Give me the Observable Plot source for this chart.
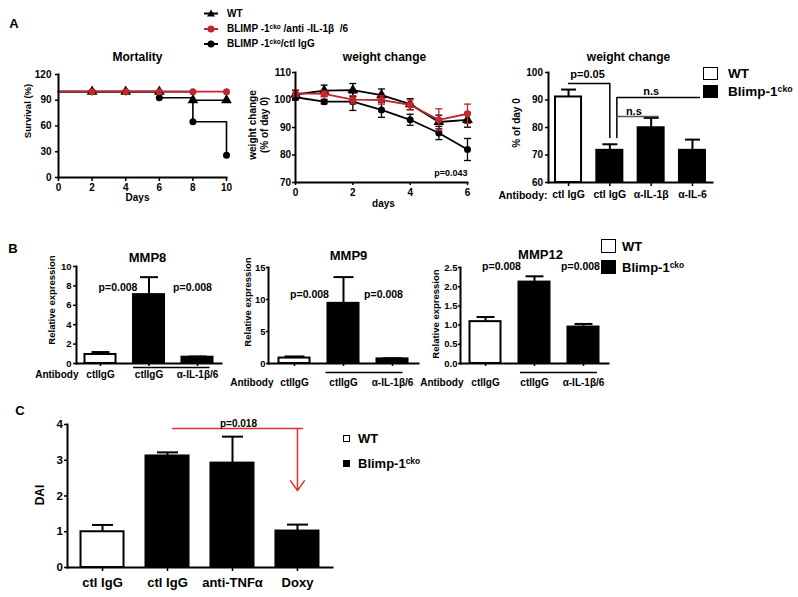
<!DOCTYPE html>
<html>
<head>
<meta charset="utf-8">
<script src="https://cdn.jsdelivr.net/npm/d3@7"></script>
<script src="https://cdn.jsdelivr.net/npm/@observablehq/plot@0.6"></script>
<style>
  html, body { margin: 0; padding: 0; background: #fff; }
  #fig { position: relative; width: 798px; height: 597px; overflow: hidden; background: #fff;
         font-family: "Liberation Sans", Arial, Helvetica, sans-serif; font-weight: bold; color: #000; }
  #fig .t { position: absolute; white-space: nowrap; line-height: 1; }
  #fig .v { position: absolute; white-space: nowrap; line-height: 1.2; text-align: center; }
  #fig sup { font-size: 0.65em; line-height: 0; vertical-align: 0; position: relative; top: -0.5em; }
  #fig .box { position: absolute; box-sizing: border-box; border: 1.5px solid #000; }
</style>
</head>
<body>
<div id="fig"></div>
<script>
// ================= DATA =================
// Panel A – mortality (survival, %)
const mortDays  = [0, 2, 4, 6, 8, 10];
const survWT    = [100, 100, 100, 100, 90, 90];
const survAnti  = [100, 100, 100, 100, 100, 100];
const survCtl   = [100, 100, 100, 93, 65, 26];
const survTicks = [0, 30, 60, 90, 120];
const mortXTicks = [0, 2, 4, 6, 8, 10];

// Panel A – weight change over time (% of day 0, mean ± SEM)
const wDays    = [0, 1, 2, 3, 4, 5, 6];
const wWT      = [102.0, 103.4, 103.6, 101.8, 98.5, 92.0, 92.8];
const wWTErr   = [1.5, 2.0, 2.4, 2.2, 2.0, 2.5, 2.7];
const wAnti    = [102.4, 102.2, 100.1, 100.0, 98.2, 92.8, 95.0];
const wAntiErr = [1.2, 1.0, 1.5, 1.5, 1.8, 4.0, 3.5];
const wCtl     = [101.0, 99.4, 99.4, 96.4, 92.8, 88.0, 82.0];
const wCtlErr  = [1.0, 0.8, 3.2, 2.7, 2.0, 2.4, 4.0];
const wYTicks  = [70, 80, 90, 100, 110];
const wXTicks  = [0, 2, 4, 6];

// Panel A – weight change bars (% of day 0)
const a3Keys   = ["WT|ctl IgG", "cko|ctl IgG", "cko|α-IL-1β", "cko|α-IL-6"];
const a3Ticks  = ["ctl IgG", "ctl IgG", "α-IL-1β", "α-IL-6"];
const a3Geno   = ["WT", "cko", "cko", "cko"];
const a3Mean   = [91.1, 71.7, 79.9, 71.7];
const a3Err    = [2.7, 2.2, 3.6, 3.9];
const a3YTicks = [60, 70, 80, 90, 100];
const a3SigP   = [{x: a3Keys[0], y: 96}, {x: a3Keys[1], y: 96}, {x: a3Keys[1], y: 76.4}];
const a3SigNs1 = [{x: a3Keys[3], y: 90.9}, {x: a3Keys[1], y: 90.9}, {x: a3Keys[1], y: 76.4}];
const a3SigNs2 = [{x: a3Keys[1], y: 84}, {x: a3Keys[2], y: 84}];
const a3Notes  = [{label: "p=0.05", at: a3Keys[0], y: 99.3}, {label: "n.s", at: a3Keys[2], y: 93.1}, {label: "n.s", at: a3Keys[1], y: 85.8}];

// Panel B – relative expression
const bKeys     = ["WT|ctlIgG", "cko|ctlIgG", "cko|α-IL-1β/6"];
const bTicks    = ["ctlIgG", "ctlIgG", "α-IL-1β/6"];
const bGeno     = ["WT", "cko", "cko"];
const mmp8Mean  = [0.93, 7.1, 0.65];
const mmp8Err   = [0.25, 1.8, 0.07];
const mmp9Mean  = [0.85, 9.4, 0.72];
const mmp9Err   = [0.25, 4.1, 0.10];
const mmp12Mean = [1.09, 2.12, 0.95];
const mmp12Err  = [0.12, 0.15, 0.08];
const mmp8Ticks  = [0, 2, 4, 6, 8, 10];
const mmp9Ticks  = [0, 5, 10, 15];
const mmp12Ticks = [0, 0.5, 1, 1.5, 2, 2.5];
const bBracket   = [{from: bKeys[1], to: bKeys[2]}];
const mmp8P  = 7.8;
const mmp9P  = 10.8;
const mmp12P = 2.52;

// Panel C – DAI
const cKeys   = ["WT|ctl IgG", "cko|ctl IgG", "cko|anti-TNFα", "cko|Doxy"];
const cTicks  = ["ctl IgG", "ctl IgG", "anti-TNFα", "Doxy"];
const cGeno   = ["WT", "cko", "cko", "cko"];
const cMean   = [1.0, 3.12, 2.92, 1.02];
const cErr    = [0.19, 0.10, 0.74, 0.18];
const cYTicks = [0, 1, 2, 3, 4];
const cSigLine  = [{x: cKeys[1], y: 3.89}, {x: cKeys[3], y: 3.89}];
const cSigArrow = [{x: cKeys[3], y1: 3.89, y2: 2.15}];
const cSigNote  = [{label: "p=0.018", at: cKeys[2], y: 4.03}];

// ================= DRAWING =================
const FONT = '"Liberation Sans", Arial, Helvetica, sans-serif';
const RED = "#c1272d";
const ARROW = "#e1302a";
const fig = document.getElementById("fig");

// horizontal error-bar cap as a custom dot symbol (half-width = r)
const cap = { draw(ctx, size) { const r = Math.sqrt(size / Math.PI); ctx.moveTo(-r, 0); ctx.lineTo(r, 0); } };

function framed([x0, y0, x1, y1], [mt, mr, mb, ml], options) {
  const svg = Plot.plot({
    width: x1 - x0 + ml + mr, height: y1 - y0 + mt + mb,
    marginTop: mt, marginRight: mr, marginBottom: mb, marginLeft: ml,
    style: { fontFamily: FONT, fontWeight: "bold", fontSize: "10px", background: "none", overflow: "visible", color: "#000" },
    ...options
  });
  svg.style.position = "absolute";
  svg.style.left = (x0 - ml) + "px";
  svg.style.top = (y0 - mt) + "px";
  svg.style.maxWidth = "none";
  fig.appendChild(svg);
  return svg;
}
const note = (s, o) => Plot.text([s], { text: d => d, lineAnchor: "middle", ...o });
const axisLines = () => [Plot.frame({ anchor: "left", strokeWidth: 2 }), Plot.frame({ anchor: "bottom", strokeWidth: 2 })];

// ---------- A: Mortality ----------
const survRows = (vals) => mortDays.map((d, i) => ({ day: d, v: vals[i] }));
const sWT = survRows(survWT), sAnti = survRows(survAnti), sCtl = survRows(survCtl);
const later = d => d.day > 0;
framed([58, 74, 226, 177], [25, 12, 30, 45], {
  x: { domain: [0, 10] }, y: { domain: [0, 120] },
  marks: [
    Plot.line(sWT, { x: "day", y: "v", curve: "step-after", stroke: "#000", strokeWidth: 1.6 }),
    Plot.line(sCtl, { x: "day", y: "v", curve: "step-after", stroke: "#000", strokeWidth: 1.6 }),
    Plot.line(sAnti, { x: "day", y: "v", curve: "step-after", stroke: RED, strokeWidth: 1.8 }),
    Plot.dot(sWT.filter(later), { x: "day", y: "v", symbol: "triangle", fill: "#000", r: 4 }),
    Plot.dot(sCtl.filter(later), { x: "day", y: "v", symbol: "circle", fill: "#000", r: 3.5 }),
    Plot.dot(sAnti.filter(later), { x: "day", y: "v", symbol: "circle", fill: RED, r: 3.5 }),
    Plot.axisX({ ticks: mortXTicks, tickFormat: "d", tickSize: 4, tickPadding: 2.5, strokeWidth: 1.5, label: null, fontSize: 10 }),
    Plot.axisY({ ticks: survTicks, tickFormat: "d", tickSize: 3, tickPadding: 4, strokeWidth: 1.5, label: null, fontSize: 10 }),
    ...axisLines(),
    note("Mortality", { frameAnchor: "top", dy: -17, dx: -5, fontSize: 12 }),
    note("Days", { frameAnchor: "bottom", dx: -5, dy: 20, fontSize: 10 })
  ]
});

// ---------- A: weight change over time ----------
const wRows = (m, e) => wDays.map((d, i) => ({ day: d, v: m[i], lo: m[i] - e[i], hi: m[i] + e[i] }));
const wSeries = [
  { rows: wRows(wWT, wWTErr), color: "#000", symbol: "triangle", r: 4 },
  { rows: wRows(wCtl, wCtlErr), color: "#000", symbol: "circle", r: 3.5 },
  { rows: wRows(wAnti, wAntiErr), color: RED, symbol: "circle", r: 3.5 }
];
framed([295, 72, 467, 182], [25, 12, 30, 50], {
  x: { domain: [0, 6] }, y: { domain: [70, 110] },
  marks: [
    ...wSeries.flatMap(s => [
      Plot.ruleX(s.rows, { x: "day", y1: "lo", y2: "hi", stroke: s.color, strokeWidth: 1.3 }),
      Plot.dot(s.rows, { x: "day", y: "hi", symbol: cap, r: 3.5, fill: "none", stroke: s.color, strokeWidth: 1.3 }),
      Plot.dot(s.rows, { x: "day", y: "lo", symbol: cap, r: 3.5, fill: "none", stroke: s.color, strokeWidth: 1.3 }),
      Plot.line(s.rows, { x: "day", y: "v", stroke: s.color, strokeWidth: 1.8 }),
      Plot.dot(s.rows, { x: "day", y: "v", symbol: s.symbol, fill: s.color, r: s.r })
    ]),
    Plot.axisX({ ticks: wXTicks, tickFormat: "d", tickSize: 3, tickPadding: 3, strokeWidth: 1.5, label: null, fontSize: 10 }),
    Plot.axisY({ ticks: wYTicks, tickFormat: "d", tickSize: 3, tickPadding: 1.5, strokeWidth: 1.5, label: null, fontSize: 10 }),
    ...axisLines(),
    note("weight change", { frameAnchor: "top", dy: -15, dx: 3, fontSize: 12 }),
    note("days", { frameAnchor: "bottom", dx: 2, dy: 21, fontSize: 10 }),
    note("p=0.043", { frameAnchor: "bottom-right", textAnchor: "end", dy: -9, fontSize: 9 })
  ]
});

// ---------- generic bar panel ----------
function barPanel(cfg) {
  const { frame, margin, keys, ticks, geno, mean, err, yDomain, yTicks, yFormat = "d", pi, po, capR,
          xAxis, yAxis, extra = [] } = cfg;
  const rows = keys.map((k, i) => ({ key: k, geno: geno[i], mean: mean[i], top: mean[i] + err[i] }));
  const tickOf = new Map(keys.map((k, i) => [k, ticks[i]]));
  return framed(frame, margin, {
    x: { type: "band", domain: keys, paddingInner: pi, paddingOuter: po, round: false },
    y: { domain: yDomain },
    color: { type: "identity" },
    marks: [
      Plot.barY(rows, { x: "key", y1: yDomain[0], y2: "mean", fill: d => d.geno === "WT" ? "#fff" : "#000", stroke: "#000", strokeWidth: 2 }),
      Plot.ruleX(rows, { x: "key", y1: "mean", y2: "top", stroke: "#000", strokeWidth: 2 }),
      Plot.dot(rows, { x: "key", y: "top", symbol: cap, r: capR, fill: "none", stroke: "#000", strokeWidth: 2 }),
      Plot.axisX({ tickFormat: d => tickOf.get(d), strokeWidth: 1.5, label: null, ...xAxis }),
      Plot.axisY({ ticks: yTicks, tickFormat: yFormat, strokeWidth: 1.5, label: null, ...yAxis }),
      ...axisLines(),
      ...extra
    ]
  });
}

// ---------- A: weight change bars ----------
barPanel({
  frame: [548, 72, 712, 182], margin: [25, 10, 25, 50],
  keys: a3Keys, ticks: a3Ticks, geno: a3Geno, mean: a3Mean, err: a3Err,
  yDomain: [60, 100], yTicks: a3YTicks, pi: 0.37, po: 0.17, capR: 7.5,
  xAxis: { tickSize: 4, tickPadding: 4, fontSize: 10.5 },
  yAxis: { tickSize: 3, tickPadding: 2.5, fontSize: 10 },
  extra: [
    note("weight change", { frameAnchor: "top", dy: -15, dx: -2, fontSize: 12 }),
    note("Antibody:", { frameAnchor: "bottom-left", textAnchor: "end", dx: -1, dy: 13, fontSize: 10.5 }),
    Plot.line(a3SigP, { x: "x", y: "y", stroke: "#000", strokeWidth: 1.5 }),
    Plot.line(a3SigNs1, { x: "x", y: "y", dx: 7, stroke: "#000", strokeWidth: 1.5 }),
    Plot.line(a3SigNs2, { x: "x", y: "y", dx: 7, stroke: "#555", strokeWidth: 1.5 }),
    Plot.text(a3Notes.slice(0, 1), { x: "at", y: "y", text: "label", dx: 19, fontSize: 11 }),
    Plot.text(a3Notes.slice(1, 2), { x: "at", y: "y", text: "label", dx: 0, fontSize: 11 }),
    Plot.text(a3Notes.slice(2, 3), { x: "at", y: "y", text: "label", dx: 24, fontSize: 11 })
  ]
});

// ---------- B: MMP panels ----------
barPanel({
  frame: [76, 266, 221, 363], margin: [20, 10, 24, 42],
  keys: bKeys, ticks: bTicks, geno: bGeno, mean: mmp8Mean, err: mmp8Err,
  yDomain: [0, 10], yTicks: mmp8Ticks, pi: 0.36, po: 0.175, capR: 9,
  xAxis: { tickSize: 3, tickPadding: 4, fontSize: 10 },
  yAxis: { tickSize: 3, tickPadding: 2, fontSize: 9.5 },
  extra: [
    note("MMP8", { frameAnchor: "top", dy: -9, dx: -1.5, fontSize: 13 }),
    note("Antibody", { frameAnchor: "bottom-left", textAnchor: "end", dx: 2, dy: 11.5, fontSize: 10 }),
    Plot.text([{ at: bKeys[1], y: mmp8P }], { x: "at", y: "y", text: () => "p=0.008", dx: -31, fontSize: 10.5 }),
    Plot.text([{ at: bKeys[2], y: mmp8P }], { x: "at", y: "y", text: () => "p=0.008", dx: -5, fontSize: 10.5 }),
    Plot.ruleY(bBracket, { x1: "from", x2: "to", y: () => 0, dy: 4, insetLeft: 0, insetRight: 3, strokeWidth: 1.5 })
  ]
});

barPanel({
  frame: [268, 267, 418, 363], margin: [20, 10, 25, 40],
  keys: bKeys, ticks: bTicks, geno: bGeno, mean: mmp9Mean, err: mmp9Err,
  yDomain: [0, 15], yTicks: mmp9Ticks, pi: 0.367, po: 0.214, capR: 10,
  xAxis: { tickSize: 3, tickPadding: 12, fontSize: 10 },
  yAxis: { tickSize: 2, tickPadding: 1, fontSize: 9.5 },
  extra: [
    note("MMP9", { frameAnchor: "top", dy: -12, dx: 5, fontSize: 13 }),
    note("Antibody", { frameAnchor: "bottom-left", textAnchor: "end", dx: 5, dy: 19, fontSize: 10 }),
    Plot.text([{ at: bKeys[1], y: mmp9P }], { x: "at", y: "y", text: () => "p=0.008", dx: -34, fontSize: 10.5 }),
    Plot.text([{ at: bKeys[2], y: mmp9P }], { x: "at", y: "y", text: () => "p=0.008", dx: -9, fontSize: 10.5 }),
    Plot.ruleY(bBracket, { x1: "from", x2: "to", y: () => 0, dy: 9, insetLeft: -2, insetRight: 5, strokeWidth: 1.5 })
  ]
});

barPanel({
  frame: [460, 267, 608, 363], margin: [20, 10, 25, 40],
  keys: bKeys, ticks: bTicks, geno: bGeno, mean: mmp12Mean, err: mmp12Err,
  yDomain: [0, 2.5], yTicks: mmp12Ticks, yFormat: ".1f", pi: 0.367, po: 0.194, capR: 9,
  xAxis: { tickSize: 3, tickPadding: 12, fontSize: 10 },
  yAxis: { tickSize: 2, tickPadding: 1, fontSize: 9.5 },
  extra: [
    note("MMP12", { frameAnchor: "top", dy: -13, dx: 6, fontSize: 13 }),
    note("Antibody", { frameAnchor: "bottom-left", textAnchor: "end", dx: 3, dy: 19, fontSize: 10 }),
    Plot.text([{ at: bKeys[1], y: mmp12P }], { x: "at", y: "y", text: () => "p=0.008", dx: -33, fontSize: 10.5 }),
    Plot.text([{ at: bKeys[2], y: mmp12P }], { x: "at", y: "y", text: () => "p=0.008", dx: -3, fontSize: 10.5 }),
    Plot.ruleY(bBracket, { x1: "from", x2: "to", y: () => 0, dy: 9, insetLeft: 1.5, insetRight: 1.5, strokeWidth: 1.5 })
  ]
});

// ---------- C: DAI ----------
barPanel({
  frame: [67, 424, 332, 567], margin: [20, 10, 25, 45],
  keys: cKeys, ticks: cTicks, geno: cGeno, mean: cMean, err: cErr,
  yDomain: [0, 4], yTicks: cYTicks, pi: 0.338, po: 0.208, capR: 10.5,
  xAxis: { tickSize: 4, tickPadding: 6, fontSize: 13 },
  yAxis: { tickSize: 3, tickPadding: 1.5, fontSize: 11.5 },
  extra: [
    Plot.line(cSigLine, { x: "x", y: "y", dx: 5, stroke: ARROW, strokeWidth: 1.5 }),
    Plot.arrow(cSigArrow, { x1: "x", x2: "x", y1: "y1", y2: "y2", stroke: ARROW, strokeWidth: 1.5, headLength: 12, headAngle: 70 }),
    Plot.text(cSigNote, { x: "at", y: "y", text: "label", dx: 6, fontSize: 10 })
  ]
});

// ================= AXIS TITLES, LEGENDS & PANEL LETTERS (HTML text) =================
function label(html, x, y, size, align = "left") {
  const d = document.createElement("div");
  d.className = "t";
  d.innerHTML = html;
  d.style.left = x + "px"; d.style.top = y + "px"; d.style.fontSize = size + "px";
  const tx = align === "center" ? "-50%" : align === "right" ? "-100%" : "0";
  d.style.transform = `translate(${tx}, -50%)`;
  fig.appendChild(d);
}
function vlabel(html, cx, cy, size) {
  const d = document.createElement("div");
  d.className = "v";
  d.innerHTML = html;
  d.style.left = cx + "px"; d.style.top = cy + "px"; d.style.fontSize = size + "px";
  d.style.transform = "translate(-50%, -50%) rotate(-90deg)";
  fig.appendChild(d);
}
function box(x, y, w, h, fill) {
  const d = document.createElement("div");
  d.className = "box";
  Object.assign(d.style, { left: x + "px", top: y + "px", width: w + "px", height: h + "px", background: fill });
  fig.appendChild(d);
}

// rotated y-axis titles
vlabel("Survival (%)", 28, 111, 9.5);
vlabel("weight change<br>(% of day 0)", 259, 125, 10);
vlabel("% of day 0", 517, 123, 10);
vlabel("Relative expression", 52, 300, 9.5);
vlabel("Relative expression", 248, 302, 9.5);
vlabel("Relative expression", 436, 314, 9.5);
vlabel("DAI", 40, 495, 12);

label("A", 14, 23, 13, "center");
label("B", 13, 248, 13, "center");
label("C", 20, 410, 13, "center");

// top line legend (Panel A)
const lg = document.createElementNS("http://www.w3.org/2000/svg", "svg");
lg.setAttribute("width", 20); lg.setAttribute("height", 46);
Object.assign(lg.style, { position: "absolute", left: "201px", top: "6px", overflow: "visible" });
lg.innerHTML =
  `<line x1="3" x2="17" y1="7.5" y2="7.5" stroke="#000" stroke-width="2"/>
   <path d="M10,3.5 L14,10.5 L6,10.5 Z" fill="#000"/>
   <line x1="3" x2="17" y1="23" y2="23" stroke="${RED}" stroke-width="2"/>
   <circle cx="10" cy="23" r="3.5" fill="${RED}"/>
   <line x1="3" x2="17" y1="38" y2="38" stroke="#000" stroke-width="2"/>
   <circle cx="10" cy="38" r="3.5" fill="#000"/>`;
fig.appendChild(lg);
label("WT", 227, 14, 10);
label("BLIMP -1<sup>cko</sup> /anti -IL-1β&nbsp; /6", 227, 29, 10);
label("BLIMP -1<sup>cko</sup>/ctl IgG", 227, 44, 10);

// bar legend, panel A
box(703, 67, 15, 13, "#fff"); box(703, 85, 15, 13, "#000");
label("WT", 728, 74, 13.5);
label("Blimp-1<sup>cko</sup>", 728, 92, 13.5);

// bar legend, panel B
box(601, 239, 15, 14, "#fff"); box(601, 260, 15, 14, "#000");
label("WT", 622, 246, 13);
label("Blimp-1<sup>cko</sup>", 622, 267, 13);

// bar legend, panel C
box(343, 435, 7, 7, "#fff"); box(343, 460, 7, 7, "#000");
label("WT", 358, 438, 13);
label("Blimp-1<sup>cko</sup>", 358, 463, 13);
</script>
</body>
</html>
